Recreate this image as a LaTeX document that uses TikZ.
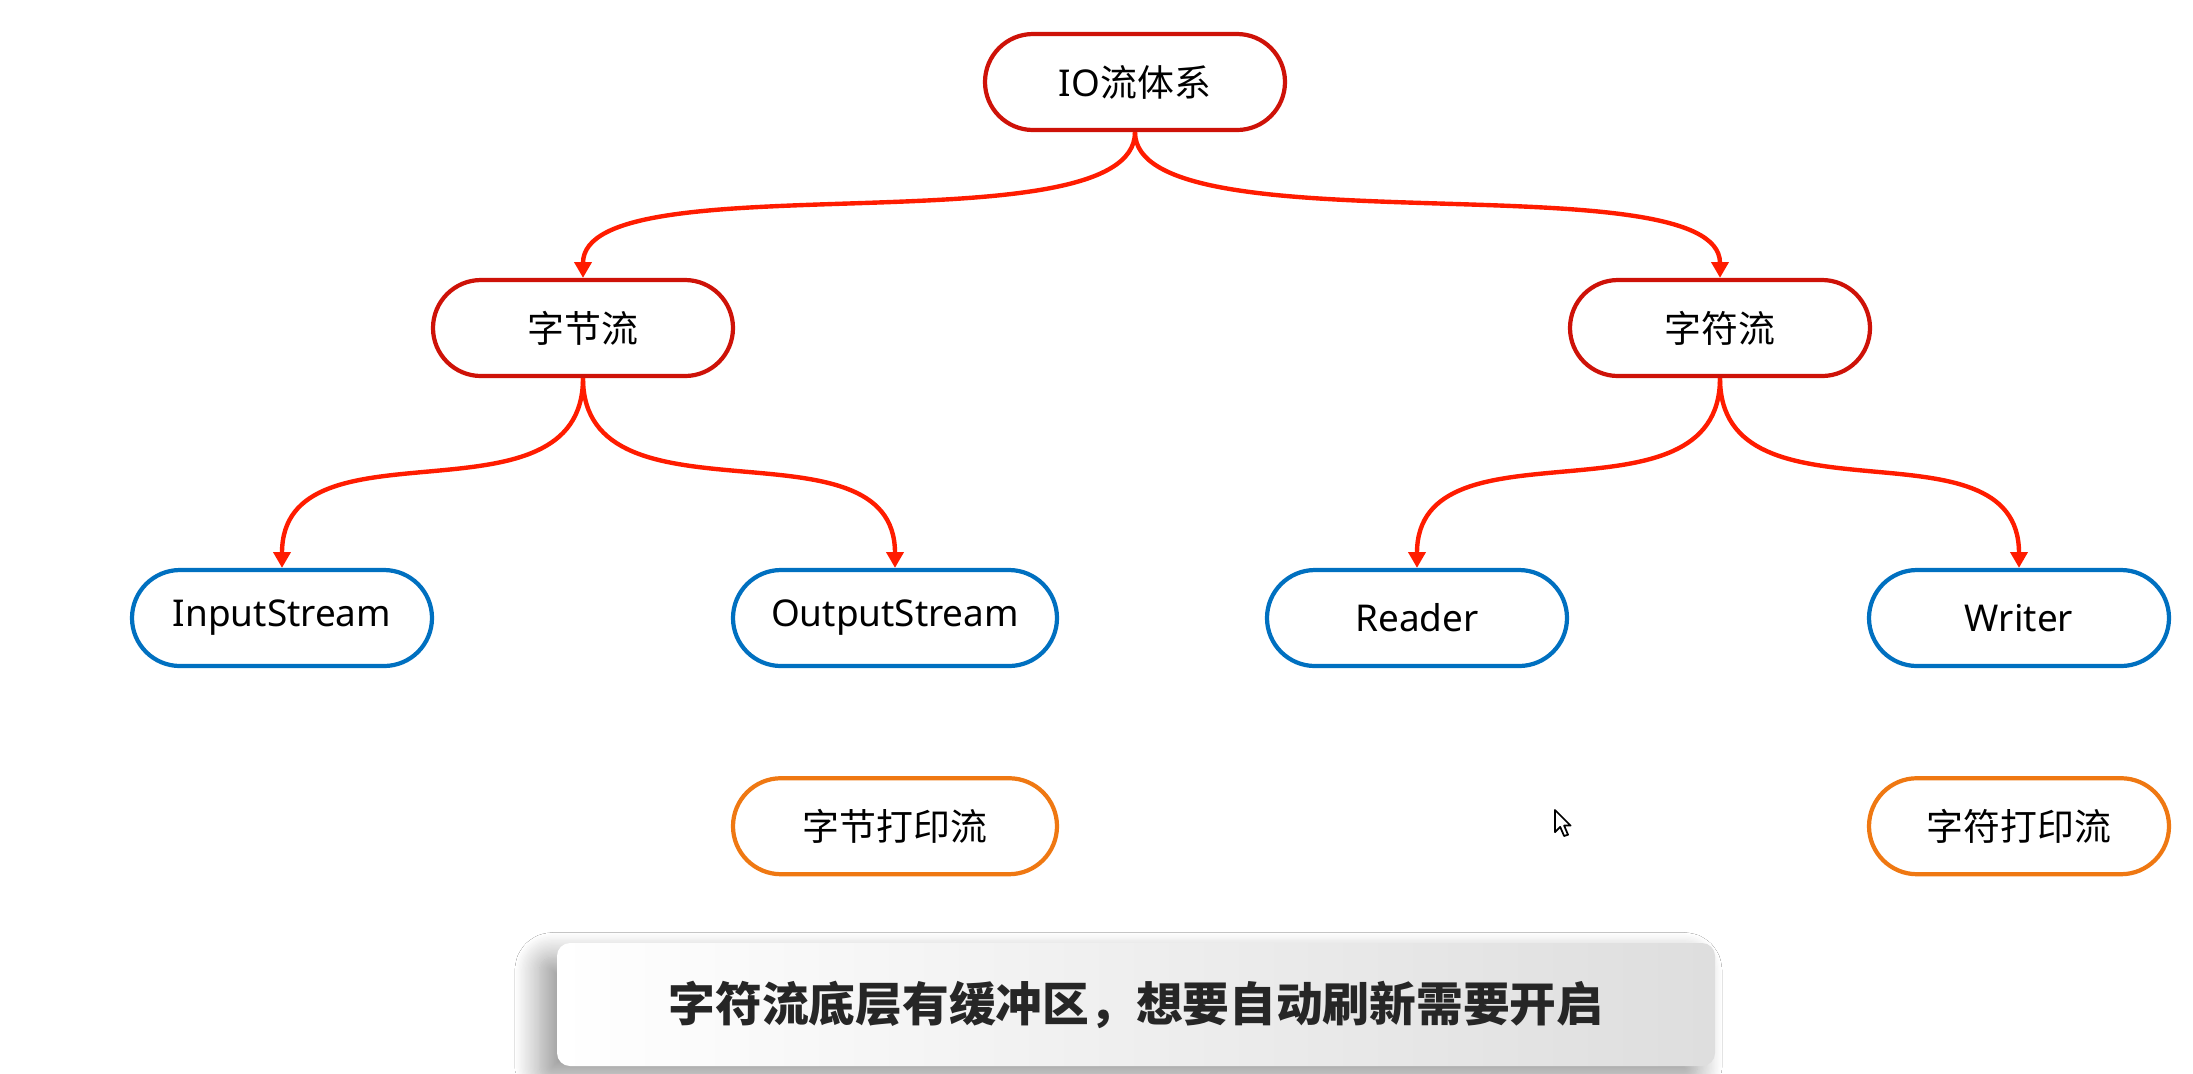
\documentclass[tikz,border=0pt]{standalone}
\usepackage{fontspec}
\setmainfont{Noto Sans}
\newfontfamily\cjk{Noto Sans CJK SC}
\usetikzlibrary{arrows.meta,positioning,shapes.misc,shadows.blur}

\definecolor{toprim}{RGB}{206,18,8}
\definecolor{linkred}{RGB}{255,28,0}
\definecolor{streamblue}{RGB}{0,112,192}
\definecolor{printorange}{RGB}{239,120,18}

\begin{document}
\begin{tikzpicture}[
  pill/.style={draw,rounded rectangle,line width=1.2pt,minimum width=3cm,
    minimum height=0.96cm,inner sep=0pt,fill=white,
    font=\fontsize{10.5}{12}\selectfont},
  cat/.style={pill,draw=toprim},
  base/.style={pill,draw=streamblue},
  printer/.style={pill,draw=printorange},
  link/.style={linkred,line width=1.25pt,-{Triangle[length=4.5pt,width=4.8pt]}},
  caption/.style={rounded corners=0.13cm,minimum width=11.58cm,minimum height=1.23cm,
    left color=white,right color=black!13,
    blur shadow={shadow xshift=-5pt,shadow yshift=-4pt,shadow blur radius=7pt,
      shadow blur steps=20,shadow opacity=40},
    font=\cjk\bfseries\fontsize{13.3}{16}\selectfont,text=black!85}
]
  \useasboundingbox[fill=white] (0,0) rectangle (21.93,-10.73);

  \node[cat] (io) at (11.35,-0.82) {IO\cjk 流体系};
  \node[cat] (byte) at (5.83,-3.28) {\cjk 字节流};
  \node[cat] (char) at (17.20,-3.28) {\cjk 字符流};

  \node[base] (in) at (2.82,-6.18) {InputStream};
  \node[base,minimum width=3.24cm] (out) at (8.95,-6.18) {OutputStream};
  \node[base] (reader) at (14.17,-6.18) {Reader};
  \node[base] (writer) at (20.19,-6.18) {Writer};

  \node[printer,minimum width=3.24cm,below=1.08cm of out] (bprint) {\cjk 字节打印流};
  \node[printer,below=1.08cm of writer] (cprint) {\cjk 字符打印流};

  \draw[link] (io.south) .. controls +(0,-1.2) and +(0,1.2) .. (byte.north);
  \draw[link] (io.south) .. controls +(0,-1.2) and +(0,1.2) .. (char.north);
  \draw[link] (byte.south) .. controls +(0,-1.55) and +(0,1.55) .. (in.north);
  \draw[link] (byte.south) .. controls +(0,-1.55) and +(0,1.55) .. (out.north);
  \draw[link] (char.south) .. controls +(0,-1.55) and +(0,1.55) .. (reader.north);
  \draw[link] (char.south) .. controls +(0,-1.55) and +(0,1.55) .. (writer.north);

  % mouse pointer
  \draw[fill=white,line width=0.5pt,line join=round,shift={(15.55,-8.10)},scale=0.013]
    (0,0) -- (0,-17) -- (4,-13) -- (7,-20) -- (10,-19) -- (7,-12) -- (12,-12) -- cycle;

  \node[caption] (note) at (11.36,-10.045) {字符流底层有缓冲区，想要自动刷新需要开启\hspace{0.8cm}};
\end{tikzpicture}
\end{document}
